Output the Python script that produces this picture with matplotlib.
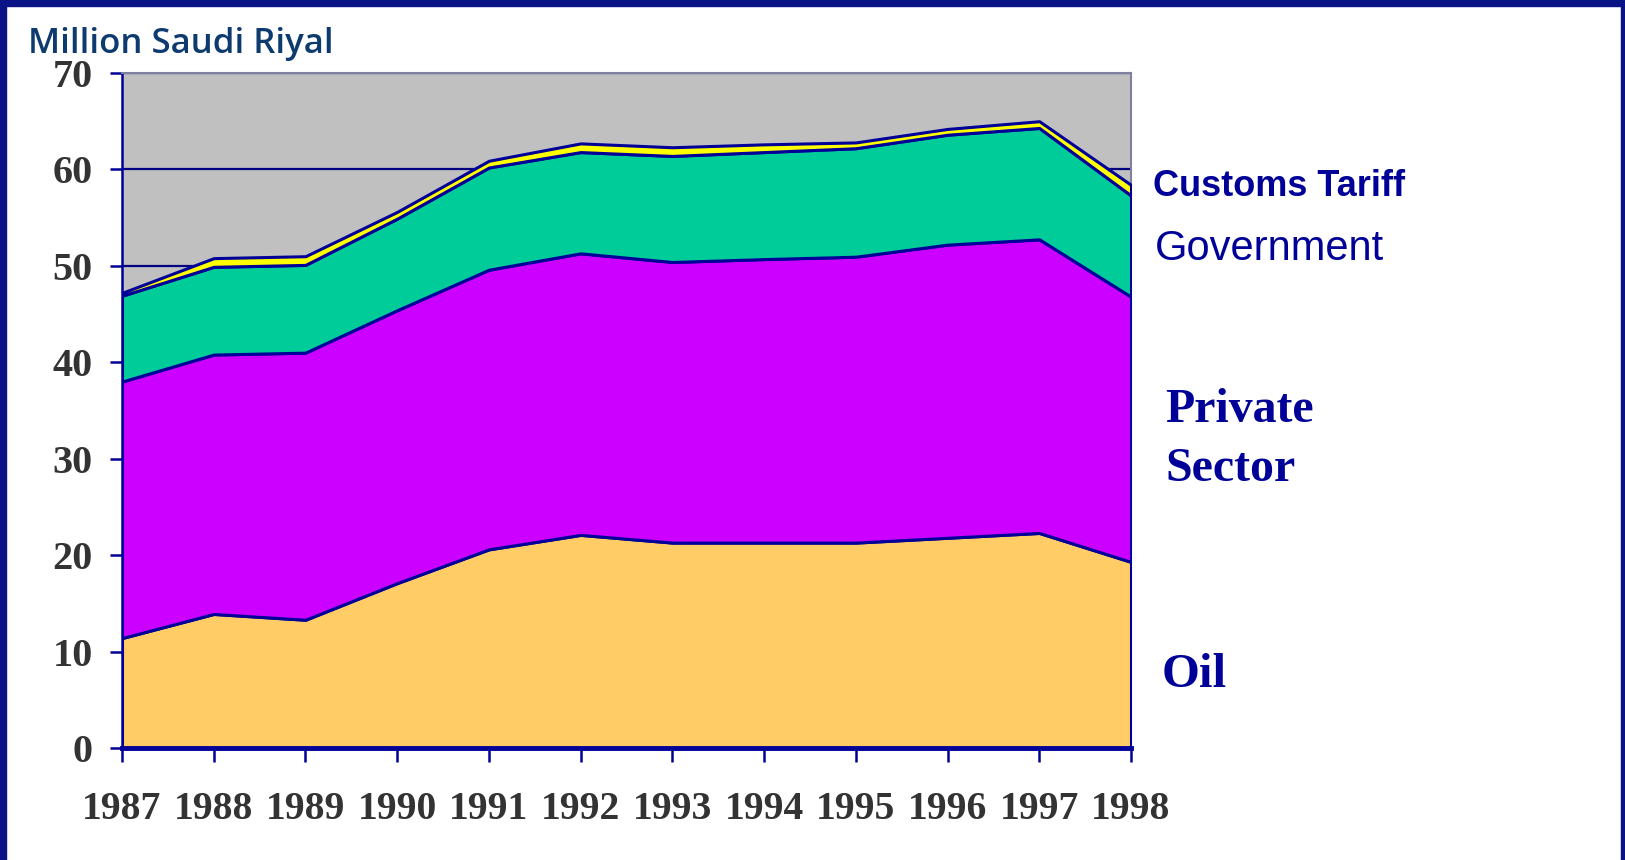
import numpy as np
import matplotlib
matplotlib.use("Agg")
import matplotlib.pyplot as plt
from matplotlib.patches import Rectangle

years = [1987, 1988, 1989, 1990, 1991, 1992, 1993, 1994, 1995, 1996, 1997, 1998]

# cumulative tops (million Saudi riyal)
oil = np.array([11.4, 13.9, 13.3, 17.1, 20.6, 22.1, 21.3, 21.3, 21.3, 21.8, 22.3, 19.3])
private_top = np.array([38.0, 40.8, 41.0, 45.4, 49.6, 51.3, 50.4, 50.7, 50.95, 52.2, 52.75, 46.8])
gov_top = np.array([46.9, 49.9, 50.1, 54.9, 60.2, 61.8, 61.4, 61.8, 62.2, 63.6, 64.3, 57.3])
customs_top = np.array([47.2, 50.8, 51.0, 55.6, 60.9, 62.7, 62.3, 62.6, 62.8, 64.2, 65.0, 58.4])

private = private_top - oil
government = gov_top - private_top
customs = customs_top - gov_top

navy = "#000099"
colors = ["#ffcc66", "#cc00ff", "#00cc99", "#ffff00"]

fig = plt.figure(figsize=(16.25, 8.6), dpi=100)
ax = fig.add_axes([122 / 1625, 1 - 748 / 860, (1131 - 122) / 1625, (748 - 73) / 860])
ax.set_facecolor("#c0c0c0")

ax.stackplot(years, oil, private, government, customs, colors=colors,
             edgecolor=navy, linewidth=2.2, zorder=3)

ax.set_xlim(1987, 1998)
ax.set_ylim(0, 70)
ax.set_yticks(range(0, 71, 10))
ax.set_xticks(years)
ax.yaxis.grid(True, color="#000080", linewidth=1.6, zorder=1)
ax.set_axisbelow(True)

for side in ["top", "right"]:
    ax.spines[side].set_color("#7f7f9f")
    ax.spines[side].set_linewidth(1.5)
ax.spines["left"].set_color(navy)
ax.spines["left"].set_linewidth(1.8)
ax.spines["bottom"].set_color(navy)
ax.spines["bottom"].set_linewidth(3.5)
ax.spines["bottom"].set_zorder(5)

ax.tick_params(axis="y", length=9, width=1.8, color=navy, pad=12,
               labelsize=29, labelcolor="#333333")
ax.tick_params(axis="x", length=10, width=1.8, color=navy, pad=21,
               labelsize=28.5, labelcolor="#333333")
for lab in ax.get_xticklabels() + ax.get_yticklabels():
    lab.set_family("Liberation Serif")
    lab.set_fontweight("bold")

fig.text(28 / 1625, 1 - 44 / 860, "Million Saudi Riyal", fontsize=25,
         color="#0d3b70", family="Open Sans", fontweight="semibold", va="center")

fig.text(1153 / 1625, 1 - 186 / 860, "Customs Tariff", fontsize=26,
         color=navy, family="Liberation Sans", fontweight="bold", va="center")
fig.text(1155 / 1625, 1 - 249 / 860, "Government", fontsize=30,
         color=navy, family="Liberation Sans", va="center")
fig.text(1165 / 1625, 1 - 410 / 860, "Private", fontsize=34.5,
         color=navy, family="Liberation Serif", fontweight="bold", va="center")
fig.text(1165 / 1625, 1 - 469 / 860, "Sector", fontsize=34.5,
         color=navy, family="Liberation Serif", fontweight="bold", va="center")
fig.text(1162 / 1625, 1 - 675 / 860, "Oil", fontsize=35,
         color=navy, family="Liberation Serif", fontweight="bold", va="center")

# dark frame round the slide
frame = "#0a1486"
fig.patches.append(Rectangle((0, 1 - 6 / 860), 1, 6 / 860, transform=fig.transFigure, color=frame))
fig.patches.append(Rectangle((0, 0), 6 / 1625, 1, transform=fig.transFigure, color=frame))
fig.patches.append(Rectangle((1 - 4 / 1625, 0), 4 / 1625, 1, transform=fig.transFigure, color=frame))

fig.savefig("out.png", dpi=100)
